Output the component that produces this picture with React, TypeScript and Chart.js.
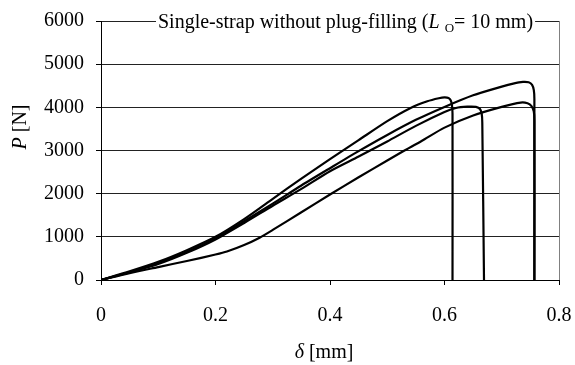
import { useEffect, useRef } from "react";
import { Chart, registerables } from "chart.js";

Chart.register(...registerables);

// Specimen curves: delta [mm] and P [N]
const deltaA = [0, 0.05, 0.1, 0.15, 0.2, 0.25, 0.3, 0.35, 0.4, 0.45, 0.5, 0.54, 0.57, 0.59, 0.6, 0.607, 0.611, 0.613, 0.614, 0.614];
const loadA = [0, 200, 420, 690, 1000, 1410, 1880, 2350, 2800, 3240, 3680, 3980, 4140, 4210, 4230, 4215, 4160, 4050, 3850, 0];

const deltaB = [0, 0.05, 0.1, 0.15, 0.2, 0.25, 0.3, 0.35, 0.4, 0.45, 0.5, 0.55, 0.6, 0.62, 0.64, 0.655, 0.662, 0.665, 0.666, 0.669];
const loadB = [0, 175, 370, 630, 940, 1320, 1720, 2110, 2520, 2860, 3210, 3570, 3890, 3985, 4015, 4010, 3960, 3850, 3650, 0];

const deltaC = [0, 0.05, 0.1, 0.15, 0.2, 0.25, 0.3, 0.35, 0.4, 0.45, 0.5, 0.55, 0.6, 0.65, 0.7, 0.72, 0.737, 0.747, 0.753, 0.756, 0.757, 0.757];
const loadC = [0, 185, 390, 650, 960, 1360, 1770, 2190, 2590, 2985, 3360, 3710, 4010, 4280, 4480, 4550, 4590, 4580, 4520, 4400, 4200, 0];

const deltaD = [0, 0.05, 0.1, 0.15, 0.2, 0.22, 0.25, 0.277, 0.3, 0.35, 0.4, 0.45, 0.5, 0.527, 0.56, 0.6, 0.65, 0.7, 0.733, 0.745, 0.752, 0.756, 0.757, 0.757];
const loadD = [0, 160, 300, 440, 590, 660, 810, 980, 1160, 1570, 1980, 2380, 2770, 2977, 3220, 3530, 3810, 4010, 4110, 4095, 4030, 3900, 3700, 0];

const xTickValues = [0, 0.2, 0.4, 0.6, 0.8];
const yTickValues = [0, 1000, 2000, 3000, 4000, 5000, 6000];

const titleMain = "Single-strap without plug-filling (";
const titleItalic = "L";
const titleSub = "O";
const titleEnd = "= 10 mm)";
const xTitleItalic = "δ";
const xTitleRest = " [mm]";
const yTitleItalic = "P";
const yTitleRest = " [N]";

const FAM = "'Liberation Serif', 'Times New Roman', serif";
const FS = 20;

type Run = { t: string; f: string; dy?: number };

function runsWidth(ctx: CanvasRenderingContext2D, runs: Run[]) {
  let w = 0;
  for (const r of runs) {
    ctx.font = r.f;
    w += ctx.measureText(r.t).width;
  }
  return w;
}
function drawRuns(ctx: CanvasRenderingContext2D, runs: Run[], x: number, y: number) {
  for (const r of runs) {
    ctx.font = r.f;
    ctx.fillText(r.t, x, y + (r.dy || 0));
    x += ctx.measureText(r.t).width;
  }
}

const textPlugin = {
  id: "customTexts",
  afterDraw(chart: any) {
    const ctx: CanvasRenderingContext2D = chart.ctx;
    const area = chart.chartArea;
    ctx.save();
    ctx.fillStyle = "#000";
    ctx.textAlign = "left";
    ctx.textBaseline = "alphabetic";
    const normal = `${FS}px ${FAM}`;
    const italic = `italic ${FS}px ${FAM}`;

    // Title sitting on top border
    const tRuns: Run[] = [
      { t: titleMain, f: normal },
      { t: titleItalic, f: italic },
      { t: " ", f: normal },
      { t: titleSub, f: `${Math.round(FS * 0.65)}px ${FAM}`, dy: 4 },
      { t: titleEnd, f: normal },
    ];
    const tw = runsWidth(ctx, tRuns);
    const tx = 158;
    ctx.fillStyle = "#fff";
    ctx.fillRect(tx - 2, area.top - 3, tw + 4, 6);
    ctx.fillStyle = "#000";
    drawRuns(ctx, tRuns, tx, area.top + 7);

    // X title
    const xRuns: Run[] = [
      { t: xTitleItalic, f: italic },
      { t: xTitleRest, f: normal },
    ];
    const xw = runsWidth(ctx, xRuns);
    drawRuns(ctx, xRuns, 324 - xw / 2, 358);

    // Y title
    const yRuns: Run[] = [
      { t: yTitleItalic, f: italic },
      { t: yTitleRest, f: normal },
    ];
    const yw = runsWidth(ctx, yRuns);
    ctx.translate(26, 127);
    ctx.rotate(-Math.PI / 2);
    drawRuns(ctx, yRuns, -yw / 2, 0);
    ctx.restore();
  },
};

export default function App() {
  const ref = useRef<HTMLCanvasElement>(null);
  useEffect(() => {
    document.body.style.margin = "0";
    const pts = (xs: number[], ys: number[]) => xs.map((x, i) => ({ x, y: ys[i] }));
    const series = [
      pts(deltaA, loadA),
      pts(deltaB, loadB),
      pts(deltaC, loadC),
      pts(deltaD, loadD),
    ];
    const chart = new Chart(ref.current as HTMLCanvasElement, {
      type: "scatter",
      data: {
        datasets: series.map((d, i) => ({
          label: "S" + (i + 1),
          data: d,
          showLine: true,
          borderColor: "#000",
          borderWidth: 2.2,
          pointRadius: 0,
          tension: 0.25,
          fill: false,
        })),
      },
      options: {
        animation: false,
        responsive: true,
        maintainAspectRatio: false,
        layout: { padding: { top: 21, right: 16, left: 0, bottom: 0 } },
        plugins: { legend: { display: false }, tooltip: { enabled: false }, title: { display: false } },
        scales: {
          x: {
            type: "linear",
            min: 0,
            max: 0.8,
            afterBuildTicks: (s: any) => {
              s.ticks = xTickValues.map((v) => ({ value: v }));
            },
            afterFit: (s: any) => {
              s.height = 85;
              s.paddingLeft = 0;
              s.paddingRight = 0;
            },
            ticks: {
              color: "#000",
              font: { family: FAM, size: FS },
              padding: 19,
              callback: (v: any) => String(Number(Number(v).toFixed(1))),
            },
            grid: {
              drawOnChartArea: true,
              color: (c: any) => (c.tick && c.tick.value === 0.8 ? "#808080" : "rgba(0,0,0,0)"),
              tickColor: "#000",
              tickLength: 5,
              lineWidth: 1,
            },
            border: { display: true, color: "#000", width: 1 },
          },
          y: {
            type: "linear",
            min: 0,
            max: 6000,
            afterBuildTicks: (s: any) => {
              s.ticks = yTickValues.map((v) => ({ value: v }));
            },
            afterFit: (s: any) => {
              s.width = 101;
              s.paddingTop = 0;
              s.paddingBottom = 0;
            },
            ticks: {
              color: "#000",
              font: { family: FAM, size: FS },
              padding: 12,
              callback: (v: any) => String(v),
            },
            grid: {
              color: "#222",
              tickColor: "#000",
              tickLength: 5,
              lineWidth: 1,
            },
            border: { display: true, color: "#000", width: 1 },
          },
        },
      },
      plugins: [textPlugin],
    });
    return () => chart.destroy();
  }, []);
  return (
    <div style={{ width: 575, height: 365, position: "relative" }}>
      <canvas ref={ref} />
    </div>
  );
}
